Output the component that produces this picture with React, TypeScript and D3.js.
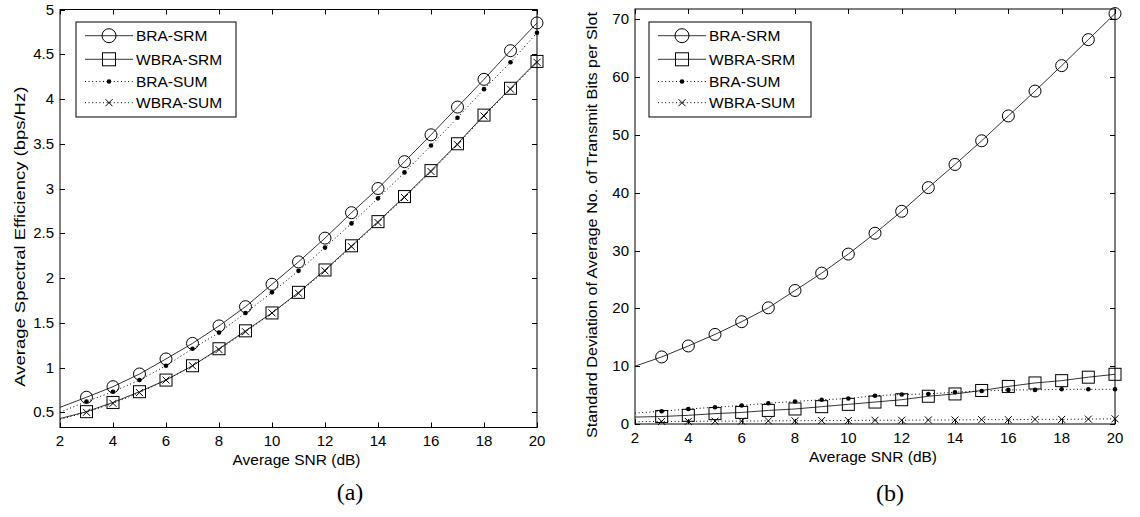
import React, { useEffect, useRef } from 'react';
import * as d3 from 'd3';

// SNR grid (dB); markers are drawn from 3 dB on, lines start at 2 dB
const snr = [2, 3, 4, 5, 6, 7, 8, 9, 10, 11, 12, 13, 14, 15, 16, 17, 18, 19, 20];
const seriesNames = ['BRA-SRM', 'WBRA-SRM', 'BRA-SUM', 'WBRA-SUM'];

// (a) average spectral efficiency
const seA_braSrm = [0.555, 0.668, 0.786, 0.928, 1.096, 1.27, 1.465, 1.68, 1.93, 2.18, 2.446, 2.73, 3.0, 3.3, 3.6, 3.91, 4.22, 4.54, 4.85];
const seA_wbraSrm = [0.43, 0.507, 0.61, 0.73, 0.86, 1.02, 1.21, 1.41, 1.61, 1.84, 2.09, 2.36, 2.63, 2.91, 3.2, 3.5, 3.82, 4.12, 4.42];
const seA_braSum = [0.5, 0.62, 0.73, 0.86, 1.02, 1.21, 1.39, 1.61, 1.84, 2.08, 2.34, 2.61, 2.89, 3.18, 3.48, 3.79, 4.11, 4.41, 4.74];
const seA_wbraSum = [0.42, 0.5, 0.6, 0.72, 0.86, 1.02, 1.2, 1.4, 1.61, 1.83, 2.08, 2.35, 2.62, 2.9, 3.19, 3.49, 3.81, 4.11, 4.41];

// (b) std deviation of average number of transmit bits per slot
const sdB_braSrm = [10.0, 11.6, 13.5, 15.5, 17.7, 20.1, 23.1, 26.1, 29.4, 33.0, 36.8, 40.9, 44.9, 49.0, 53.3, 57.6, 62.0, 66.5, 71.0];
const sdB_wbraSrm = [1.2, 1.3, 1.5, 1.8, 2.0, 2.35, 2.6, 3.0, 3.4, 3.8, 4.2, 4.8, 5.2, 5.8, 6.5, 7.1, 7.5, 8.1, 8.6];
const sdB_braSum = [1.9, 2.2, 2.6, 2.9, 3.2, 3.6, 3.9, 4.2, 4.4, 4.9, 5.1, 5.2, 5.5, 5.7, 5.9, 5.9, 6.0, 6.0, 6.0];
const sdB_wbraSum = [0.4, 0.45, 0.45, 0.5, 0.5, 0.55, 0.55, 0.6, 0.6, 0.65, 0.65, 0.7, 0.7, 0.75, 0.75, 0.8, 0.8, 0.85, 0.9];

// tick labels
const xTicks = [2, 4, 6, 8, 10, 12, 14, 16, 18, 20];
const yTicksA = [0.5, 1, 1.5, 2, 2.5, 3, 3.5, 4, 4.5, 5];
const yTicksB = [0, 10, 20, 30, 40, 50, 60, 70];

const FONT = '"Liberation Sans", Arial, sans-serif';
const markers = ['circle', 'square', 'dot', 'cross'];
const dashed = [false, false, true, true];

function drawMarker(g, type, cx, cy, big) {
  if (type === 'circle') {
    const r = big ? 7 : 6;
    g.append('circle').attr('cx', cx).attr('cy', cy).attr('r', r)
      .attr('fill', 'none').attr('stroke', '#000').attr('stroke-width', 1);
  } else if (type === 'square') {
    const s = big ? 6.5 : 6;
    g.append('rect').attr('x', cx - s).attr('y', cy - s).attr('width', 2 * s).attr('height', 2 * s)
      .attr('fill', 'none').attr('stroke', '#000').attr('stroke-width', 1);
  } else if (type === 'dot') {
    g.append('circle').attr('cx', cx).attr('cy', cy).attr('r', 2.3).attr('fill', '#000');
  } else {
    const s = 3.5;
    g.append('path')
      .attr('d', `M${cx - s},${cy - s}L${cx + s},${cy + s}M${cx - s},${cy + s}L${cx + s},${cy - s}`)
      .attr('stroke', '#000').attr('stroke-width', 1).attr('fill', 'none');
  }
}

function drawPanel(svg, cfg) {
  const { left, right, top, bottom, yDomain, yTicks, data, tickFmt, yLabel, yLabelX, yLabelMid, yLabelLen, xLabelY, xTickY, legend } = cfg;
  const x = d3.scaleLinear().domain([2, 20]).range([left, right]);
  const y = d3.scaleLinear().domain(yDomain).range([bottom, top]);
  const g = svg.append('g');

  // series
  const line = d3.line().x((d) => x(d[0])).y((d) => y(d[1]));
  data.forEach((vals, i) => {
    const pts = snr.map((s, k) => [s, vals[k]]);
    g.append('path').attr('d', line(pts)).attr('fill', 'none').attr('stroke', '#000')
      .attr('stroke-width', dashed[i] ? 1 : 0.8)
      .attr('stroke-dasharray', dashed[i] ? '1,2.6' : null);
    pts.slice(1).forEach((p) => drawMarker(g, markers[i], x(p[0]), y(p[1]), false));
  });

  // box with inward ticks on all sides
  g.append('rect').attr('x', left).attr('y', top).attr('width', right - left).attr('height', bottom - top)
    .attr('fill', 'none').attr('stroke', '#000').attr('stroke-width', 1);
  const tl = 5;
  xTicks.forEach((t) => {
    const px = Math.round(x(t)) + 0.5;
    g.append('line').attr('x1', px).attr('x2', px).attr('y1', bottom).attr('y2', bottom - tl).attr('stroke', '#000');
    g.append('line').attr('x1', px).attr('x2', px).attr('y1', top).attr('y2', top + tl).attr('stroke', '#000');
    g.append('text').attr('x', x(t)).attr('y', xTickY).attr('text-anchor', 'middle')
      .attr('font-family', FONT).attr('font-size', 15).text(t);
  });
  yTicks.forEach((t) => {
    const py = Math.round(y(t)) + 0.5;
    g.append('line').attr('x1', left).attr('x2', left + tl).attr('y1', py).attr('y2', py).attr('stroke', '#000');
    g.append('line').attr('x1', right).attr('x2', right - tl).attr('y1', py).attr('y2', py).attr('stroke', '#000');
    g.append('text').attr('x', left - 6).attr('y', y(t) + 5).attr('text-anchor', 'end')
      .attr('font-family', FONT).attr('font-size', 15).text(tickFmt(t));
  });

  // axis titles
  g.append('text').attr('x', (left + right) / 2 - 2).attr('y', xLabelY).attr('text-anchor', 'middle')
    .attr('font-family', FONT).attr('font-size', 15)
    .attr('textLength', 128).attr('lengthAdjust', 'spacingAndGlyphs').text('Average SNR (dB)');
  g.append('text').attr('transform', `translate(${yLabelX},${yLabelMid}) rotate(-90)`)
    .attr('text-anchor', 'middle').attr('font-family', FONT).attr('font-size', 14)
    .attr('textLength', yLabelLen).attr('lengthAdjust', 'spacingAndGlyphs').text(yLabel);

  // legend
  const lg = svg.append('g');
  lg.append('rect').attr('x', legend.x).attr('y', 22).attr('width', legend.w).attr('height', 95)
    .attr('fill', '#fff').attr('stroke', '#000').attr('stroke-width', 1);
  const rows = [35.7, 59.3, 81.5, 102.7];
  seriesNames.forEach((name, i) => {
    const ly = rows[i];
    const x0 = legend.x + 9;
    const x1 = x0 + 48;
    lg.append('line').attr('x1', x0).attr('x2', x1).attr('y1', ly).attr('y2', ly).attr('stroke', '#000')
      .attr('stroke-width', dashed[i] ? 1 : 0.8).attr('stroke-dasharray', dashed[i] ? '1,2.6' : null);
    drawMarker(lg, markers[i], (x0 + x1) / 2, ly, true);
    lg.append('text').attr('x', x1 + 3).attr('y', ly + 5.5).attr('font-family', FONT).attr('font-size', 15.5)
      .text(name);
  });
}

const App = () => {
  const svgRef = useRef(null);

  useEffect(() => {
    const svg = d3.select(svgRef.current);
    svg.selectAll('*').remove();
    svg.append('rect').attr('width', 1140).attr('height', 517).attr('fill', '#fff');

    drawPanel(svg, {
      left: 60, right: 537, top: 9.5, bottom: 427.5,
      yDomain: [0.33, 5], yTicks: yTicksA,
      data: [seA_braSrm, seA_wbraSrm, seA_braSum, seA_wbraSum],
      tickFmt: (t) => String(t),
      yLabel: 'Average Spectral Efficiency (bps/Hz)', yLabelX: 25, yLabelMid: 236.7, yLabelLen: 300,
      xLabelY: 465, xTickY: 446,
      legend: { x: 76, w: 160 },
    });
    drawPanel(svg, {
      left: 635, right: 1115, top: 9, bottom: 424,
      yDomain: [0, 71.8], yTicks: yTicksB,
      data: [sdB_braSrm, sdB_wbraSrm, sdB_braSum, sdB_wbraSum],
      tickFmt: (t) => String(t),
      yLabel: 'Standard Deviation of Average No. of Transmit Bits per Slot', yLabelX: 597, yLabelMid: 225, yLabelLen: 426,
      xLabelY: 462, xTickY: 443,
      legend: { x: 649, w: 162 },
    });

    // sub-figure captions
    svg.append('text').attr('x', 350).attr('y', 500).attr('text-anchor', 'middle')
      .attr('font-family', '"Liberation Serif", "Times New Roman", serif').attr('font-size', 24).text('(a)');
    svg.append('text').attr('x', 890).attr('y', 501).attr('text-anchor', 'middle')
      .attr('font-family', '"Liberation Serif", "Times New Roman", serif').attr('font-size', 24).text('(b)');
  }, []);

  return (
    <div style={{ position: 'absolute', left: 0, top: 0 }}>
      <svg ref={svgRef} width={1140} height={517} style={{ display: 'block' }}></svg>
    </div>
  );
};

export default App;
